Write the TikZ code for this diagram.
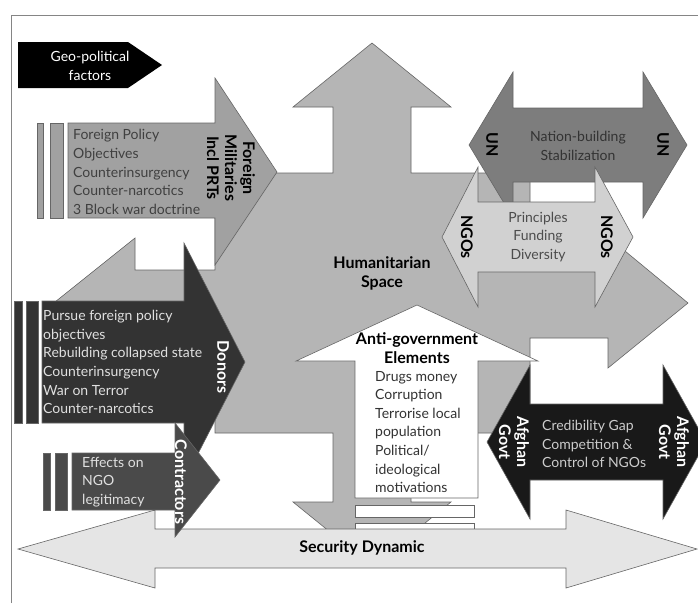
\documentclass[tikz,border=0pt]{standalone}
\usepackage{fontspec}
\setmainfont{Lato}
\usepackage{tikz}

\definecolor{hsgrey}{gray}{0.71}
\definecolor{fmgrey}{gray}{0.63}
\definecolor{ungrey}{gray}{0.49}
\definecolor{ngogrey}{gray}{0.82}
\definecolor{dngrey}{gray}{0.2}
\definecolor{ctgrey}{gray}{0.29}
\definecolor{afgrey}{gray}{0.1}
\definecolor{secgrey}{gray}{0.9}
\definecolor{edgegrey}{gray}{0.4}

\tikzset{
	shapeline/.style={draw=edgegrey, line width=0.6pt},
	listtext/.style={align=left, anchor=west, inner sep=0pt, font=\fontsize{14}{18.6}\selectfont},
	midtext/.style={align=center, inner sep=0pt, font=\fontsize{14}{18.6}\selectfont},
	boldtext/.style={align=center, inner sep=0pt, font=\bfseries\fontsize{16}{19}\selectfont},
	sidelabel/.style={rotate=-90, align=center, inner sep=0pt, font=\bfseries\fontsize{16}{18}\selectfont}
}

\begin{document}
\begin{tikzpicture}[x=1pt, y=-1pt]
	\useasboundingbox (0,0) rectangle (698,603);
	\clip (0,0) rectangle (698,603);
	\draw[edgegrey!80, line width=1pt] (11,603) -- (11,15) -- (698,15);

	% geo-political
	\fill[black] (18,42) -- (128,42) -- (162,65) -- (128,88) -- (18,88) -- cycle;
	\node[midtext, white] (geo) at (90,66) {Geo-political\\factors};

	% humanitarian space
	\draw[shapeline, fill=hsgrey] (372,43) -- (451,107) -- (411,107) -- (411,173) -- (530,173) -- (530,268) -- (608,268) -- (608,237) -- (688,303) -- (608,368) -- (608,338) -- (530,338) -- (530,433) -- (411,433) -- (411,502) -- (451,502) -- (372,566) -- (293,502) -- (333,502) -- (333,433) -- (215,433) -- (215,335) -- (135,335) -- (135,367) -- (55,302) -- (135,238) -- (135,270) -- (215,270) -- (215,173) -- (333,173) -- (333,107) -- (293,107) -- cycle;
	\node[boldtext] (hs) at (382,273) {Humanitarian\\Space};

	% anti-government elements
	\draw[shapeline, fill=white] (417,305) -- (538,361) -- (478,361) -- (478,498) -- (355,498) -- (355,361) -- (296,361) -- cycle;
	\draw[shapeline, fill=white] (355,505) rectangle (474,517);
	\draw[shapeline, fill=white] (355,523) rectangle (474,535);
	\node[boldtext] (age) at (417,348) {Anti-government\\Elements};
	\node[listtext, black!80] (agelist) at (375,432) {Drugs money\\Corruption\\Terrorise local\\population\\Political/\\ideological\\motivations};

	% security dynamic
	\draw[shapeline, fill=secgrey] (18,549) -- (155,510) -- (155,529) -- (566,529) -- (566,510) -- (697,549) -- (566,588) -- (566,568) -- (155,568) -- (155,588) -- cycle;
	\node[boldtext] (sec) at (362,548) {Security Dynamic};

	% foreign militaries
	\draw[shapeline, fill=fmgrey] (37,123) rectangle (43,218);
	\draw[shapeline, fill=fmgrey] (50,123) rectangle (63,218);
	\draw[shapeline, fill=fmgrey] (68,123) -- (215,123) -- (215,78) -- (277,172) -- (215,265) -- (215,218) -- (68,218) -- cycle;
	\node[listtext, black!75] (fmlist) at (73,172) {Foreign Policy\\Objectives\\Counterinsurgency\\Counter-narcotics\\3 Block war doctrine};
	\node[sidelabel] (fm) at (231,168) {Foreign\\Militaries\\Incl PRTs};

	% donors
	\draw[shapeline, fill=dngrey] (14,301) rectangle (22,423);
	\draw[shapeline, fill=dngrey] (26,301) rectangle (38,423);
	\draw[shapeline, fill=dngrey] (42,301) -- (184,301) -- (184,243) -- (245,362) -- (184,481) -- (184,423) -- (42,423) -- cycle;
	\node[listtext, black!12] (dnlist) at (43,362) {Pursue foreign policy\\objectives\\Rebuilding collapsed state\\Counterinsurgency\\War on Terror\\Counter-narcotics};
	\node[sidelabel, white] (dn) at (223,367) {Donors};

	% contractors
	\draw[shapeline, fill=ctgrey] (43,453) rectangle (50,510);
	\draw[shapeline, fill=ctgrey] (55,453) rectangle (67,510);
	\draw[shapeline, fill=ctgrey] (72,453) -- (175,453) -- (175,423) -- (220,480) -- (175,537) -- (175,510) -- (72,510) -- cycle;
	\node[listtext, black!12] (ctlist) at (82,482) {Effects on\\NGO\\legitimacy};
	\node[sidelabel, white] (ct) at (181,482) {Contractors};

	% UN
	\draw[shapeline, fill=ungrey] (469,145) -- (513,72) -- (513,108) -- (643,108) -- (643,72) -- (687,145) -- (643,218) -- (643,182) -- (513,182) -- (513,218) -- cycle;
	\node[midtext, black!80] (un) at (578,146) {Nation-building\\Stabilization};
	\node[sidelabel] (unl) at (492,145) {UN};
	\node[sidelabel] (unr) at (663,145) {UN};

	% NGOs
	\draw[shapeline, fill=ngogrey] (442,237) -- (478,167) -- (478,202) -- (595,202) -- (595,167) -- (633,237) -- (595,307) -- (595,272) -- (478,272) -- (478,307) -- cycle;
	\node[midtext, black!70] (ngo) at (538,237) {Principles\\Funding\\Diversity};
	\node[sidelabel] (ngol) at (467,237) {NGOs};
	\node[sidelabel] (ngor) at (607,237) {NGOs};

	% afghan govt
	\draw[shapeline, fill=afgrey] (487,442) -- (530,365) -- (530,404) -- (663,404) -- (663,365) -- (706,442) -- (663,519) -- (663,480) -- (530,480) -- (530,519) -- cycle;
	\node[listtext, black!20] (af) at (542,444) {Credibility Gap\\Competition \&\\Control of NGOs};
	\node[sidelabel, white] (afl) at (514,442) {Afghan\\Govt};
	\node[sidelabel, white] (afr) at (674,442) {Afghan\\Govt};
\end{tikzpicture}
\end{document}
